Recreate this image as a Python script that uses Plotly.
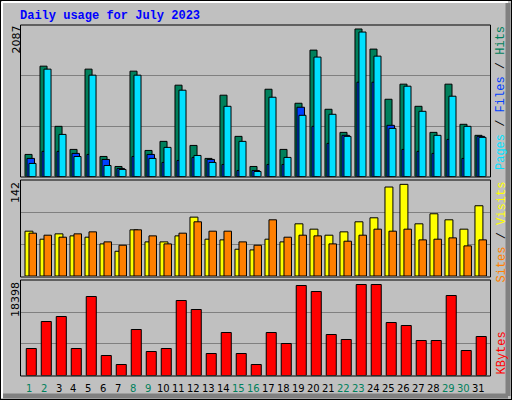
import plotly.graph_objects as go

days = list(range(1, 32))
day_labels = [str(d) for d in days]
weekend_days = [1, 2, 8, 9, 15, 16, 22, 23, 29, 30]

hits = [304, 1520, 691, 373, 1479, 276, 138, 1451, 359, 484, 1258, 428, 249, 1120, 553, 138,
        1202, 373, 1009, 1741, 926, 608, 2032, 1755, 1064, 1272, 967, 608, 1272, 719, 567]
files = [249, 346, 346, 318, 304, 235, 111, 276, 304, 194, 221, 263, 235, 166, 83, 83,
         166, 166, 954, 691, 456, 567, 1299, 1299, 705, 373, 346, 318, 511, 249, 553]
pages = [180, 1479, 580, 276, 1396, 152, 97, 1396, 249, 401, 1189, 290, 194, 967, 484, 69,
         1092, 263, 843, 1645, 857, 553, 1990, 1658, 663, 1244, 898, 567, 1106, 691, 539]
visits = [67, 55, 63, 60, 58, 48, 37, 69, 51, 51, 60, 88, 55, 54, 40, 39,
          55, 51, 78, 70, 61, 66, 81, 87, 133, 137, 78, 93, 84, 70, 105]
sites = [64, 61, 58, 63, 66, 51, 46, 69, 60, 48, 64, 81, 67, 67, 51, 46,
         84, 58, 61, 60, 48, 52, 61, 70, 67, 70, 54, 55, 57, 45, 54]
kbytes = [5229, 10458, 11426, 5229, 15300, 3873, 2130, 8909, 4648, 5229, 14525, 12782, 4261, 8328, 4261, 2130,
          8328, 6197, 17430, 16268, 7940, 6972, 17624, 17624, 10264, 9683, 6778, 6778, 15493, 4842, 7553]
max_hits, max_visits, max_kbytes = 2087, 142, 18398

W, H = 512, 400
def py(p):
    return 1 - p / H
def px(p):
    return p / W

fig = go.Figure()
line = dict(color="black", width=1)
def bar(y, color, off, wid, xa, ya):
    fig.add_trace(go.Bar(x=days, y=y, marker=dict(color=color, line=line), offset=off, width=wid,
                         xaxis=xa, yaxis=ya, showlegend=False, hoverinfo="skip"))

bar(hits, "#00805c", -0.233, 0.47, "x", "y")
bar(files, "#0040ff", -0.1, 0.5, "x", "y")
bar(pages, "#00e0ff", 0.033, 0.47, "x", "y")
bar(visits, "#ffff00", -0.233, 0.53, "x2", "y2")
bar(sites, "#ff8000", 0.033, 0.5, "x2", "y2")
bar(kbytes, "#ff0000", -0.15, 0.67, "x3", "y3")

xd = [px(21), px(490)]
common_x = dict(range=[0.5, 31.77], showticklabels=False, showgrid=False, zeroline=False, fixedrange=True)
def yax(mx, top, bot):
    return dict(range=[0, mx], domain=[py(bot), py(top)], tickvals=[mx / 3, 2 * mx / 3],
                showticklabels=False, showgrid=True, gridcolor="#808080", gridwidth=1,
                zeroline=False, ticks="")

fig.update_layout(
    width=W, height=H, margin=dict(l=0, r=0, t=0, b=0),
    paper_bgcolor="#c0c0c0", plot_bgcolor="#c0c0c0", barmode="overlay",
    xaxis=dict(domain=xd, anchor="y", **common_x),
    xaxis2=dict(domain=xd, anchor="y2", **common_x),
    xaxis3=dict(domain=xd, anchor="y3", **common_x),
    yaxis=yax(max_hits, 25, 176.5),
    yaxis2=dict(anchor="x2", **yax(max_visits, 181, 276)),
    yaxis3=dict(anchor="x3", **yax(max_kbytes, 280.5, 375.5)),
)
fig.layout.yaxis.anchor = "x"

shapes = []
for top, bot in [(25, 177), (180, 277), (280, 376)]:
    shapes.append(dict(type="rect", xref="paper", yref="paper", x0=px(20.5), x1=px(490.5),
                       y0=py(bot), y1=py(top), line=dict(color="black", width=1)))
shapes.append(dict(type="line", xref="paper", yref="paper", x0=px(2), x1=px(2), y0=py(398), y1=py(2),
                   line=dict(color="white", width=2)))
shapes.append(dict(type="line", xref="paper", yref="paper", x0=px(2), x1=px(508), y0=py(2), y1=py(2),
                   line=dict(color="white", width=2)))
shapes.append(dict(type="line", xref="paper", yref="paper", x0=px(508), x1=px(508), y0=py(396), y1=py(3),
                   line=dict(color="#808080", width=5)))
shapes.append(dict(type="line", xref="paper", yref="paper", x0=px(3), x1=px(508), y0=py(396), y1=py(396),
                   line=dict(color="#808080", width=5)))
shapes.append(dict(type="rect", xref="paper", yref="paper", x0=0, x1=1, y0=0, y1=1,
                   line=dict(color="black", width=2)))
fig.update_layout(shapes=shapes)

mono = "Liberation Mono"
ann = [
    dict(text="<b>Daily usage for July 2023</b>", x=px(19), y=py(8), xanchor="left", yanchor="top",
         font=dict(family=mono, size=12, color="#0000ff")),
    dict(text=str(max_hits), x=px(8), y=py(25), xanchor="left", yanchor="top", textangle=-90,
         font=dict(family="DejaVu Sans", size=11, color="black")),
    dict(text=str(max_visits), x=px(8), y=py(181), xanchor="left", yanchor="top", textangle=-90,
         font=dict(family="DejaVu Sans", size=11, color="black")),
    dict(text=str(max_kbytes), x=px(8), y=py(281), xanchor="left", yanchor="top", textangle=-90,
         font=dict(family="DejaVu Sans", size=11, color="black")),
    dict(text='<span style="color:#00e0ff">Pages</span> / <span style="color:#0040ff">Files</span> / <span style="color:#00805c">Hits</span>',
         x=px(493), y=py(25), xanchor="left", yanchor="top", textangle=-90,
         font=dict(family=mono, size=12, color="black")),
    dict(text='<span style="color:#ff8000">Sites</span> / <span style="color:#ffff00">Visits</span>',
         x=px(493), y=py(181), xanchor="left", yanchor="top", textangle=-90,
         font=dict(family=mono, size=12, color="black")),
    dict(text="KBytes", x=px(493), y=py(376), xanchor="left", yanchor="bottom", textangle=-90,
         font=dict(family=mono, size=12, color="#ff0000")),
]
for a in ann:
    a.update(xref="paper", yref="paper", showarrow=False, borderpad=0)
for d, lab in zip(days, day_labels):
    ann.append(dict(text=lab, x=d, xref="x3", y=py(381), yref="paper", yanchor="top", showarrow=False,
                    font=dict(family="DejaVu Sans", size=10,
                              color="#00805c" if d in weekend_days else "black")))
fig.update_layout(annotations=ann)

fig.write_html("out.html", config={"displayModeBar": False},
               post_script="document.body.style.margin='0';document.body.style.overflow='hidden';")
